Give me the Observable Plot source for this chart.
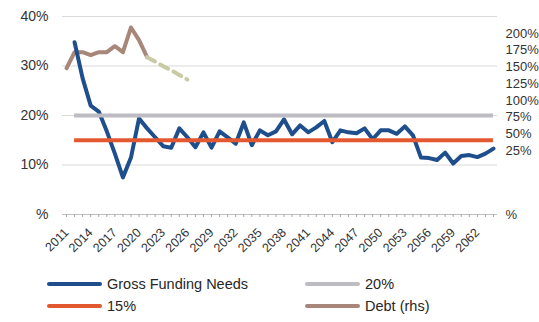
<!DOCTYPE html>
<html><head><meta charset="utf-8">
<script src="https://cdn.jsdelivr.net/npm/d3@7"></script>
<script src="https://cdn.jsdelivr.net/npm/@observablehq/plot@0.6"></script>
<style>
body{margin:0;background:#fff;font-family:"Liberation Sans",Arial,sans-serif;}
#wrap{position:relative;width:539px;height:322px;overflow:hidden;background:#fff;}
#chart{position:absolute;left:0;top:0;}
.leg{position:absolute;height:18px;font-size:14.5px;color:#262626;display:flex;align-items:center;white-space:nowrap;}
.sw{width:55px;height:4px;border-radius:2px;margin-right:5px;}
</style></head><body><div id="wrap"><div id="chart"></div><div id="legend"></div></div>
<script>
// Category axis (years)
const years = [2011,2012,2013,2014,2015,2016,2017,2018,2019,2020,2021,2022,2023,2024,2025,2026,2027,2028,2029,2030,
  2031,2032,2033,2034,2035,2036,2037,2038,2039,2040,2041,2042,2043,2044,2045,2046,2047,2048,2049,2050,
  2051,2052,2053,2054,2055,2056,2057,2058,2059,2060,2061,2062,2063,2064];
const labelYears = [2011,2014,2017,2020,2023,2026,2029,2032,2035,2038,2041,2044,2047,2050,2053,2056,2059,2062];

// Gross Funding Needs (% GDP), 2012-2064
const gfnYears = years.slice(1);
const gfn = [34.8,27.5,22.0,20.8,16.8,12.3,7.5,11.5,19.4,17.4,15.6,13.8,13.5,17.4,15.6,13.6,16.6,13.5,16.8,15.6,
  14.3,18.6,14.0,17.0,16.0,16.8,19.2,16.2,18.0,16.6,17.6,18.9,14.6,17.0,16.6,16.4,17.4,15.2,17.0,17.0,
  16.3,17.8,16.0,11.5,11.4,11.0,12.5,10.3,11.8,12.0,11.6,12.3,13.3];

// Thresholds
const thresholds = [{name:"20%", value:20}, {name:"15%", value:15}];
const thresholdSpan = [2012, 2064];

// Debt (rhs, % GDP): actual and projected
const debtYears = [2011,2012,2013,2014,2015,2016,2017,2018,2019,2020,2021];
const debt = [148,172,172,167.5,172,172,181,172,209,190,164.5];
const debtProjYears = [2021,2022,2023,2024,2025,2026];
const debtProj = [164.5,158,151,145,138,131];

// Axis ticks
const leftTicks = [0,10,20,30,40];
const rightTicks = [0,25,50,75,100,125,150,175,200];

const colors = {gfn:"#1f4e8c", t20:"#bcbcc2", t15:"#e3582f", debt:"#a88679", proj:"#c9c9a4"};

// right-hand scale expressed on the left scale
const rhs = d3.scaleLinear().domain([25,200]).range([12.93,36.57]);
const rhsPos = v => v === 0 ? 0 : rhs(v);
const rightMap = new Map(rightTicks.map(v => [rhsPos(v), v === 0 ? "%" : v + "%"]));

const gfnData = gfnYears.map((y,i) => ({year:y, v:gfn[i]}));
const debtData = debtYears.map((y,i) => ({year:y, v:rhs(debt[i])}));
const projData = debtProjYears.map((y,i) => ({year:y, v:rhs(debtProj[i])}));

const chart = Plot.plot({
  width:539, height:265,
  marginLeft:62, marginRight:42, marginTop:16, marginBottom:51,
  style:{fontFamily:"Liberation Sans, Arial, sans-serif", color:"#333", background:"transparent"},
  x:{domain:[2010.5,2064.5], axis:null},
  y:{domain:[0,40], axis:null},
  marks:[
    Plot.gridY(leftTicks.filter(v => v > 0), {stroke:"#d9d9d9", strokeOpacity:1, strokeWidth:1}),
    Plot.axisY(leftTicks, {anchor:"left", tickSize:0, tickPadding:14, fontSize:14, label:null,
      tickFormat: d => d === 0 ? "%" : d + "%"}),
    Plot.axisY(rightTicks.map(rhsPos), {anchor:"right", tickSize:0, tickPadding:8, fontSize:13, label:null,
      tickFormat: d => rightMap.get(d)}),
    Plot.ruleY([0], {stroke:"#bfbfbf"}),
    Plot.axisX(years, {anchor:"bottom", tickSize:3, stroke:"#a6a6a6", strokeOpacity:1, tickFormat: () => "", label:null}),
    Plot.text(labelYears, {x: d => d, frameAnchor:"bottom", text: d => String(d), rotate:-45,
      textAnchor:"end", lineAnchor:"middle", fontSize:12.5, fill:"#333", dy:16, dx:0}),
    Plot.line(debtData, {x:"year", y:"v", stroke:colors.debt, strokeWidth:4, strokeLinejoin:"round"}),
    Plot.line(projData, {x:"year", y:"v", stroke:colors.proj, strokeWidth:4, strokeDasharray:"9,6"}),
    Plot.line(gfnData, {x:"year", y:"v", stroke:colors.gfn, strokeWidth:4, strokeLinejoin:"round"}),
    Plot.ruleY([thresholds[0]], {y:"value", x1:thresholdSpan[0], x2:thresholdSpan[1], stroke:colors.t20, strokeWidth:4}),
    Plot.ruleY([thresholds[1]], {y:"value", x1:thresholdSpan[0], x2:thresholdSpan[1], stroke:colors.t15, strokeWidth:4})
  ]
});
document.getElementById("chart").appendChild(chart);

const legendItems = [
  {label:"Gross Funding Needs", color:colors.gfn, left:47, top:275},
  {label:"20%", color:colors.t20, left:305, top:275},
  {label:"15%", color:colors.t15, left:47, top:297},
  {label:"Debt (rhs)", color:colors.debt, left:305, top:297}
];
const leg = document.getElementById("legend");
for (const it of legendItems) {
  const d = document.createElement("div");
  d.className = "leg";
  d.style.left = it.left + "px";
  d.style.top = it.top + "px";
  d.innerHTML = `<span class="sw" style="background:${it.color}"></span><span>${it.label}</span>`;
  leg.appendChild(d);
}
</script></body></html>
